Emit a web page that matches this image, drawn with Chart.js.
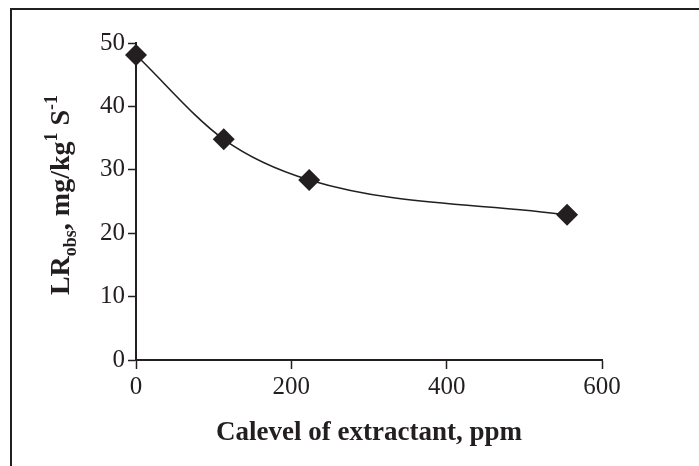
<!DOCTYPE html>
<html lang="en">
<head>
    <meta charset="UTF-8">
    <title>LR obs vs Ca level</title>
    <script src="https://cdn.jsdelivr.net/npm/chart.js@4.4.0/dist/chart.umd.min.js"></script>
    <style>
        body { margin: 0; background: #fff; }
        #wrap { width: 699px; height: 466px; position: relative; }
    </style>
</head>
<body>
    <div id="wrap"><canvas id="chart"></canvas></div>
    <script>
        // data
        var caLevel = [0, 113, 223, 555];
        var lrObs = [48.1, 34.8, 28.4, 22.9];
        var xTicks = [0, 200, 400, 600];
        var yTicks = [0, 10, 20, 30, 40, 50];

        var ink = '#231f20';
        var serif = "'Liberation Serif', 'Times New Roman', serif";

        // frame (left and top edges) plus the y title with sub/superscripts
        var decor = {
            id: 'decor',
            beforeDraw: function(chart) {
                var ctx = chart.ctx;
                ctx.save();
                ctx.strokeStyle = ink;
                ctx.lineWidth = 2;
                ctx.beginPath();
                ctx.moveTo(11, 466);
                ctx.lineTo(11, 9);
                ctx.lineTo(699, 9);
                ctx.stroke();
                ctx.restore();
            },
            afterDraw: function(chart) {
                var ctx = chart.ctx;
                var parts = [
                    { t: 'LR', size: 28, dy: 0 },
                    { t: 'obs', size: 18, dy: 7 },
                    { t: ', mg/kg', size: 28, dy: 0 },
                    { t: '1', size: 18, dy: -12 },
                    { t: ' S', size: 28, dy: 0 },
                    { t: '-1', size: 18, dy: -12 }
                ];
                ctx.save();
                ctx.fillStyle = ink;
                ctx.textBaseline = 'alphabetic';
                var total = 0;
                parts.forEach(function(p) {
                    ctx.font = 'bold ' + p.size + 'px ' + serif;
                    p.w = ctx.measureText(p.t).width;
                    total += p.w;
                });
                ctx.translate(69, 195);
                ctx.rotate(-Math.PI / 2);
                var x = -total / 2;
                parts.forEach(function(p) {
                    ctx.font = 'bold ' + p.size + 'px ' + serif;
                    ctx.fillText(p.t, x, p.dy);
                    x += p.w;
                });
                ctx.restore();
            }
        };

        new Chart(document.getElementById('chart'), {
            type: 'scatter',
            data: {
                datasets: [{
                    data: caLevel.map(function(v, i) { return { x: v, y: lrObs[i] }; }),
                    showLine: true,
                    borderColor: ink,
                    borderWidth: 1.6,
                    cubicInterpolationMode: 'monotone',
                    pointStyle: 'rectRot',
                    pointRadius: 11,
                    pointHoverRadius: 11,
                    pointBackgroundColor: ink,
                    pointBorderColor: ink,
                    pointBorderWidth: 0,
                    clip: false
                }]
            },
            options: {
                responsive: true,
                maintainAspectRatio: false,
                animation: false,
                layout: { padding: { left: 0, top: 43, right: 97, bottom: 0 } },
                plugins: {
                    legend: { display: false },
                    tooltip: { enabled: false }
                },
                scales: {
                    x: {
                        type: 'linear',
                        min: 0,
                        max: 600,
                        afterBuildTicks: function(scale) {
                            scale.ticks = xTicks.map(function(v) { return { value: v }; });
                        },
                        afterFit: function(scale) { scale.height = 106; },
                        grid: {
                            drawOnChartArea: false,
                            drawTicks: true,
                            tickLength: 9,
                            tickWidth: 1.5,
                            tickColor: ink
                        },
                        border: { display: true, color: ink, width: 2 },
                        ticks: {
                            color: ink,
                            padding: 3,
                            maxRotation: 0,
                            font: { family: serif, size: 25 }
                        },
                        title: {
                            display: true,
                            text: 'Calevel of extractant, ppm',
                            color: ink,
                            font: { family: serif, size: 27, weight: 'bold' },
                            padding: { top: 0, bottom: 17 }
                        }
                    },
                    y: {
                        type: 'linear',
                        min: 0,
                        max: 50,
                        afterBuildTicks: function(scale) {
                            scale.ticks = yTicks.map(function(v) { return { value: v }; });
                        },
                        afterFit: function(scale) { scale.width = 136; },
                        grid: {
                            drawOnChartArea: false,
                            drawTicks: true,
                            tickLength: 8,
                            tickWidth: 1.5,
                            tickColor: ink
                        },
                        border: { display: true, color: ink, width: 2 },
                        ticks: {
                            color: ink,
                            padding: 3,
                            font: { family: serif, size: 25 }
                        }
                    }
                }
            },
            plugins: [decor]
        });
    </script>
</body>
</html>
